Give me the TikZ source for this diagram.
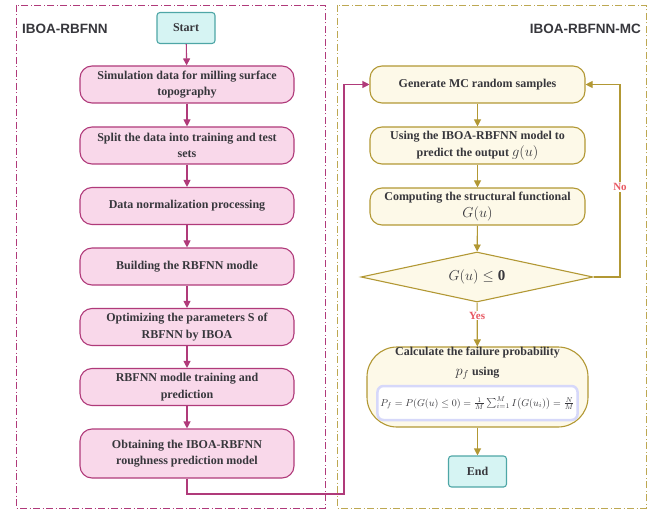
\documentclass[tikz,border=0pt]{standalone}
\usepackage{amsmath}
\usepackage{amssymb}
\usepackage{fontspec}
\setmainfont{Liberation Serif}
\newfontfamily\headfont{Liberation Sans}
\usetikzlibrary{arrows.meta,shapes.geometric}

\definecolor{rosefill}{RGB}{249,216,234}
\definecolor{roseline}{RGB}{176,58,122}
\definecolor{olivefill}{RGB}{253,249,232}
\definecolor{oliveline}{RGB}{178,152,52}
\definecolor{tealfill}{RGB}{214,244,243}
\definecolor{tealline}{RGB}{78,166,166}
\definecolor{lavfill}{RGB}{214,216,250}
\definecolor{inktext}{RGB}{55,55,60}
\definecolor{labelred}{RGB}{232,90,100}

\newcommand{\bigmath}[1]{{\fontsize{14}{16}\selectfont$#1$}}

\tikzset{
  rosebox/.style={draw=roseline, fill=rosefill, line width=1.1pt, rounded corners=12pt,
    minimum width=214pt, minimum height=37pt, align=center, text=inktext,
    font=\fontsize{12}{16.5}\selectfont\bfseries},
  olivebox/.style={draw=oliveline, fill=olivefill, line width=1.1pt, rounded corners=12pt,
    minimum width=215pt, minimum height=37pt, align=center, text=inktext,
    font=\fontsize{12}{16.5}\selectfont\bfseries},
  termbox/.style={draw=tealline, fill=tealfill, line width=1.1pt, rounded corners=3pt,
    minimum width=58pt, minimum height=31pt, text=inktext,
    font=\fontsize{12}{14}\selectfont\bfseries},
  roseflow/.style={roseline, line width=1.1pt, -{Triangle[width=7pt,length=7pt]}},
  oliveflow/.style={oliveline, line width=1.1pt, -{Triangle[width=7pt,length=7pt]}},
  framebox/.style={line width=0.8pt, dash pattern=on 7pt off 2.5pt on 1pt off 2.5pt},
  headline/.style={text=inktext, inner sep=0pt, font=\headfont\fontsize{13.5}{15}\selectfont\bfseries},
  branchlabel/.style={fill=white, text=labelred, inner sep=1pt, font=\fontsize{11}{12}\selectfont\bfseries},
}

\begin{document}
\begin{tikzpicture}[x=1pt, y=-1pt]
	\useasboundingbox (0,0) rectangle (660,510);

	% frames
	\draw[framebox, roseline] (16,5) rectangle (325,508);
	\draw[framebox, oliveline!85] (337,5) rectangle (646,508);
	\node[headline, anchor=west] (lefthead) at (22,29) {IBOA-RBFNN};
	\node[headline, anchor=east] (righthead) at (641,29) {IBOA-RBFNN-MC};

	% left column
	\node[termbox] (start) at (186,28) {Start};
	\node[rosebox] (p1) at (187,84.5) {Simulation data for milling surface\\topography};
	\node[rosebox] (p2) at (187,145.5) {Split the data into training and test\\sets};
	\node[rosebox] (p3) at (187,206) {Data normalization processing};
	\node[rosebox] (p4) at (187,266.5) {Building the RBFNN modle};
	\node[rosebox] (p5) at (187,327) {Optimizing the parameters S of\\RBFNN by IBOA};
	\node[rosebox] (p6) at (187,387) {RBFNN modle training and\\prediction};
	\node[rosebox, minimum height=49pt] (p7) at (187,453.5) {Obtaining the IBOA-RBFNN\\roughness prediction model};

	\draw[roseflow] (start) -- (p1);
	\draw[roseflow] (p1) -- (p2);
	\draw[roseflow] (p2) -- (p3);
	\draw[roseflow] (p3) -- (p4);
	\draw[roseflow] (p4) -- (p5);
	\draw[roseflow] (p5) -- (p6);
	\draw[roseflow] (p6) -- (p7);

	% right column
	\node[olivebox] (g1) at (477.5,84.5) {Generate MC random samples};
	\node[olivebox] (g2) at (477.5,145.5) {Using the IBOA-RBFNN model to\\predict the output \bigmath{g(u)}};
	\node[olivebox] (g3) at (477.5,206.5) {Computing the structural functional\\\bigmath{G(u)}};
	\node[diamond, aspect=4.64, draw=oliveline, fill=olivefill, line width=1.1pt, inner sep=0pt,
	      minimum width=232pt, minimum height=50pt, text=inktext, font=\fontsize{15}{17}\selectfont] (check) at (477,277) {$G(u)\leq\mathbf{0}$};
	\node[olivebox, rounded corners=30pt, minimum width=221pt, minimum height=80pt] (calc) at (477.5,387) {};
	\node[text=inktext, font=\fontsize{12}{14}\selectfont\bfseries] (calctop) at (477.5,353) {Calculate the failure probability};
	\node[text=inktext, font=\fontsize{12}{14}\selectfont\bfseries] (calcmid) at (477.5,373) {\bigmath{p_f} using};
	\node[draw=lavfill, line width=2.5pt, fill=white, rounded corners=6pt, minimum width=196pt,
	      minimum height=34pt, inner xsep=3pt, text=inktext, font=\fontsize{9.6}{12}\selectfont] (formula) at (477.5,403)
	      {$P_f=P(G(u)\leq0)=\tfrac{1}{M}\sum_{i=1}^{M}I\big(G(u_i)\big)=\tfrac{N}{M}$};
	\node[termbox] (finish) at (477.5,471.5) {End};

	\draw[oliveflow] (g1) -- (g2);
	\draw[oliveflow] (g2) -- (g3);
	\draw[oliveflow] (g3) -- (check);
	\draw[oliveflow] (check) -- node[branchlabel, pos=0.3] (yes) {Yes} (calc);
	\draw[oliveflow] (calc) -- (finish);

	% loops
	\coordinate (handover) at (344,494);
	\draw[roseflow] (p7.south) |- (handover) |- (g1.west);
	\coordinate (retry) at (620,277);
	\draw[oliveflow] (check.east) -- (retry) |- (g1.east);
	\node[branchlabel] (no) at (620,187) {No};
\end{tikzpicture}
\end{document}
